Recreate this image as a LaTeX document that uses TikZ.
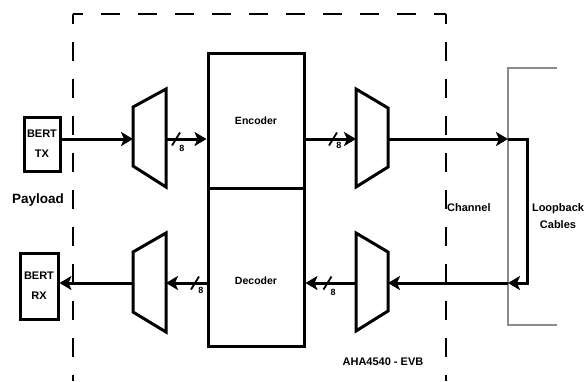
\documentclass[tikz,border=0pt]{standalone}
\definecolor{cableGray}{RGB}{140,140,140}
\usepackage{fontspec}
\setmainfont{Liberation Sans}
\usepackage{tikz}
\usetikzlibrary{arrows.meta,positioning,calc}

\begin{document}
\begin{tikzpicture}[x=1pt, y=-1pt,
  every node/.style={font=\bfseries\fontsize{11}{13}\selectfont, inner sep=0pt},
  blk/.style={line width=3pt, line join=miter},
  box/.style={draw, rectangle, line width=3pt, inner sep=0pt},
  wire/.style={line width=3pt, -{Stealth[length=12pt, width=14pt, inset=3pt]}},
  bus/.style={line width=1.8pt},
  buswidth/.style={font=\bfseries\fontsize{9}{10}\selectfont},
  board/.style={line width=2.4pt, dash pattern=on 19pt off 18pt, dash phase=9.5pt},
  cable/.style={line width=2.4pt, draw=cableGray}]
  \useasboundingbox (0,0) rectangle (587,381);
  % Evaluation board outline
  \draw[board] (73,14) -- (73,381);
  \draw[board] (73,14) -- (446,14);
  \draw[board] (446,14) -- (446,381);
  % BERT boxes
  \node[box, minimum width=36pt, minimum height=54pt, align=center, font=\bfseries\fontsize{11}{20}\selectfont] (btx) at (42,144) {BERT\\TX};
  \node[box, minimum width=38pt, minimum height=66pt, align=center, font=\bfseries\fontsize{11}{20}\selectfont] (brx) at (39,286) {BERT\\RX};
  % Codec blocks
  \node[box, minimum width=96pt, minimum height=135pt, font=\bfseries\fontsize{10.5}{12}\selectfont] (enc) at (256,120.5) {Encoder};
  \node[box, minimum width=96pt, minimum height=158pt] (dec) at (256,267) {};
  \node[font=\bfseries\fontsize{10.5}{12}\selectfont] (dectxt) at (256,281) {Decoder};
  % Muxes
  \draw[blk] (133,107) -- (166,89) -- (166,187) -- (133,166) -- cycle;
  \coordinate (txmuxL) at (133,139);
  \coordinate (txmuxR) at (166,139);
  \draw[blk] (356,89) -- (388,108) -- (388,167) -- (356,187) -- cycle;
  \coordinate (encmuxL) at (356,139);
  \coordinate (encmuxR) at (388,139);
  \draw[blk] (356,233) -- (388,252) -- (388,311) -- (356,331) -- cycle;
  \coordinate (decmuxL) at (356,283);
  \coordinate (decmuxR) at (388,283);
  \draw[blk] (133,252) -- (166,233) -- (166,332) -- (133,312) -- cycle;
  \coordinate (rxmuxL) at (133,283);
  \coordinate (rxmuxR) at (166,283);
  % Loopback cables
  \coordinate (gtop) at (508,139);
  \coordinate (gbot) at (508,283);
  \draw[cable] (557,68) -- (508,68) -- (508,325) -- (557,325);
  % Transmit path
  \draw[wire] (btx.east |- txmuxL) -- (txmuxL);
  \draw[wire] (txmuxR) -- (txmuxR -| enc.west);
  \draw[wire] (encmuxL -| enc.east) -- (encmuxL);
  \draw[wire] (encmuxR) -- (gtop);
  \draw[wire] (gtop) -- ++(19,0) |- (gbot);
  % Receive path
  \draw[wire] (gbot) -- (decmuxR);
  \draw[wire] (decmuxL) -- (decmuxL -| dec.east);
  \draw[wire] (rxmuxR -| dec.west) -- (rxmuxR);
  \draw[wire] (rxmuxL) -- (rxmuxL -| brx.east);
  % Bus width marks
  \draw[bus] (176,139) ++(-4,6.5) -- ++(8,-13);
  \node[buswidth] (w1) at (182,148) {8};
  \draw[bus] (333,139) ++(-4,6.5) -- ++(8,-13);
  \node[buswidth] (w2) at (339,145) {8};
  \draw[bus] (195,283) ++(-4,6.5) -- ++(8,-13);
  \node[buswidth] (w3) at (201,290) {8};
  \draw[bus] (327.5,283) ++(-4,6.5) -- ++(8,-13);
  \node[buswidth] (w4) at (333,292) {8};
  % Labels
  \node[font=\bfseries\fontsize{13.5}{15}\selectfont] (payload) at (38,200) {Payload};
  \node[anchor=west] (channel) at (447,208) {Channel};
  \node[align=center, font=\bfseries\fontsize{11}{17}\selectfont] (loopback) at (558,216.5) {Loopback\\Cables};
  \node (evb) at (383,362) {AHA4540 - EVB};
\end{tikzpicture}
\end{document}
